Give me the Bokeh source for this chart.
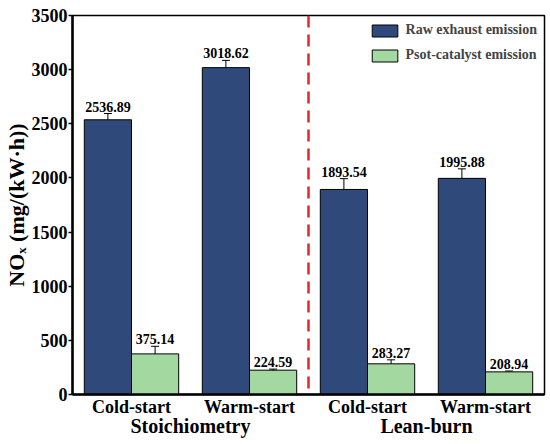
import numpy as np
from bokeh.plotting import figure
from bokeh.models import ColumnDataSource, Whisker, TeeHead, Span, FixedTicker, Legend, LinearAxis
from bokeh.core.properties import value
from bokeh.embed import file_html
from bokeh.resources import INLINE

conditions = ["Cold-start", "Warm-start", "Cold-start", "Warm-start"]
groups = ["Stoichiometry", "Lean-burn"]
raw = [2536.89, 3018.62, 1893.54, 1995.88]
raw_err = [58, 67, 100, 88]
cat = [375.14, 224.59, 283.27, 208.94]
cat_err = [70, 10, 37, 8]
y_ticks = [0, 500, 1000, 1500, 2000, 2500, 3000, 3500]

FONT = "Liberation Serif"
BLUE = "#2F4A7A"
GREEN = "#A3D9A0"

pos = np.arange(len(conditions))
w = 0.4

p = figure(frame_width=472, frame_height=379, x_range=(-0.5, 3.5), y_range=(0, 3500),
           output_backend="svg", toolbar_location=None,
           min_border_left=71, min_border_right=7, min_border_top=15, min_border_bottom=48)

src_raw = ColumnDataSource(dict(x=pos - w / 2, y=raw, lo=[v - e for v, e in zip(raw, raw_err)],
                                hi=[v + e for v, e in zip(raw, raw_err)], lab=[f"{v:.2f}" for v in raw]))
src_cat = ColumnDataSource(dict(x=pos + w / 2, y=cat, lo=[v - e for v, e in zip(cat, cat_err)],
                                hi=[v + e for v, e in zip(cat, cat_err)], lab=[f"{v:.2f}" for v in cat]))

r1 = p.vbar(x="x", top="y", width=w, source=src_raw, fill_color=BLUE, line_color="black", line_width=1)
r2 = p.vbar(x="x", top="y", width=w, source=src_cat, fill_color=GREEN, line_color="black", line_width=1)

for src in (src_raw, src_cat):
    wk = Whisker(base="x", lower="lo", upper="hi", source=src, line_color="black", line_width=1,
                 lower_head=TeeHead(size=8, line_color="black", line_width=1),
                 upper_head=TeeHead(size=8, line_color="black", line_width=1))
    p.add_layout(wk)
    p.text(x="x", y="hi", text="lab", source=src, text_align="center", text_baseline="bottom",
           y_offset=-2, text_font=value(FONT), text_font_style="bold", text_font_size="14px",
           text_color="black")

p.add_layout(Span(location=1.5, dimension="height", line_color="#E8252B", line_width=2.5,
                  line_dash="12 7"))

legend = Legend(items=[("Raw exhaust emission", [r1]), ("Psot-catalyst emission", [r2])],
                location="top_right", border_line_color=None, background_fill_alpha=0,
                label_text_font=FONT, label_text_font_style="bold", label_text_font_size="14px",
                glyph_width=32, glyph_height=15, label_height=15, spacing=9, label_standoff=5,
                padding=2, margin=7)
p.add_layout(legend)

p.xgrid.visible = False
p.ygrid.visible = False
p.outline_line_color = "black"
p.outline_line_width = 1.5

p.xaxis.ticker = FixedTicker(ticks=list(pos))
p.xaxis.major_label_overrides = {int(i): c for i, c in zip(pos, conditions)}
p.xaxis.major_tick_line_color = None
p.xaxis.minor_tick_line_color = None
p.xaxis.major_tick_out = 0
p.xaxis.major_tick_in = 0
p.xaxis.major_label_standoff = 2
p.xaxis.major_label_text_font_size = "18px"

p.yaxis.ticker = FixedTicker(ticks=y_ticks, minor_ticks=[])
p.yaxis.major_tick_in = 0
p.yaxis.major_tick_out = 4
p.yaxis.major_label_text_font_size = "18px"
p.yaxis.major_label_standoff = 1
p.yaxis.axis_label = "NOₓ (mg/(kW·h))"
p.yaxis.axis_label_text_font = FONT
p.yaxis.axis_label_text_font_style = "bold"
p.yaxis.axis_label_text_font_size = "22px"
p.yaxis.axis_label_text_color = "black"
p.yaxis.axis_label_standoff = 0

for ax in (p.xaxis, p.yaxis):
    ax.axis_line_width = 2.5
    ax.axis_line_color = "black"
    ax.major_tick_line_width = 1.5
    ax.major_label_text_font = FONT
    ax.major_label_text_font_style = "bold"
    ax.major_label_text_color = "black"

gaxis = LinearAxis(ticker=FixedTicker(ticks=[0.5, 2.5], minor_ticks=[]),
                   major_label_overrides={0.5: groups[0], 2.5: groups[1]})
gaxis.axis_line_color = None
gaxis.major_tick_line_color = None
gaxis.minor_tick_line_color = None
gaxis.major_tick_out = 0
gaxis.major_tick_in = 0
gaxis.major_label_standoff = -5
gaxis.major_label_text_font = FONT
gaxis.major_label_text_font_style = "bold"
gaxis.major_label_text_font_size = "20px"
gaxis.major_label_text_color = "black"
p.add_layout(gaxis, "below")

open("out.html", "w").write(file_html(p, INLINE))
